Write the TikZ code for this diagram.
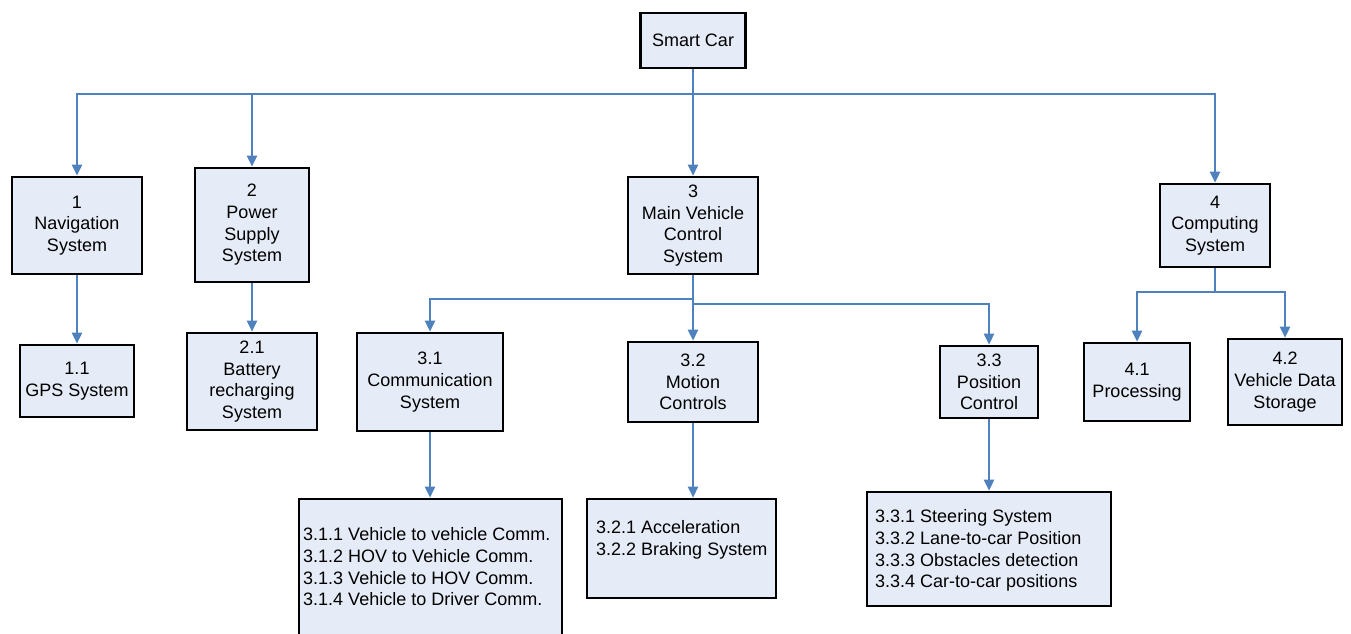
\documentclass[tikz,border=0pt]{standalone}
\usepackage{fontspec}
\setmainfont{Liberation Sans}
\usetikzlibrary{arrows.meta}
\definecolor{boxfill}{RGB}{230,236,247}
\definecolor{linkblue}{RGB}{79,129,189}

\begin{document}
\begin{tikzpicture}[x=1pt,y=-1pt,
  box/.style={draw=black, line width=2.6pt, fill=boxfill, align=center,
    font=\fontsize{18}{21.7}\selectfont, inner sep=0pt},
  listtext/.style={align=left, font=\fontsize{18}{21.7}\selectfont,
    inner sep=0pt, anchor=west},
  link/.style={draw=linkblue, line width=2.4pt,
    -{Triangle[length=11pt,width=10pt]}}
]
\useasboundingbox (0,0) rectangle (1351,633);

% root
\node[box, minimum width=105pt, minimum height=55pt] (car) at (693,40.5) {Smart Car};

% first level
\node[box, minimum width=130pt, minimum height=97pt]  (n1) at (77,225.5)   {1\\Navigation\\System};
\node[box, minimum width=114pt, minimum height=114pt] (n2) at (252,225)    {2\\Power\\Supply\\System};
\node[box, minimum width=130pt, minimum height=97pt]  (n3) at (693,225.5)  {3\\Main Vehicle\\Control\\System};
\node[box, minimum width=110pt, minimum height=83pt]  (n4) at (1215,225.5) {4\\Computing\\System};

% second level
\node[box, minimum width=114pt, minimum height=72pt] (n11) at (77,381)     {1.1\\GPS System};
\node[box, minimum width=130pt, minimum height=97pt] (n21) at (252,381.5)  {2.1\\Battery\\recharging\\System};
\node[box, minimum width=146pt, minimum height=98pt] (n31) at (430,382)    {3.1\\Communication\\System};
\node[box, minimum width=130pt, minimum height=80pt] (n32) at (693,382)    {3.2\\Motion\\Controls};
\node[box, minimum width=98pt,  minimum height=72pt] (n33) at (989,382)    {3.3\\Position\\Control};
\node[box, minimum width=106pt, minimum height=78pt] (n41) at (1137,382)   {4.1\\Processing};
\node[box, minimum width=114pt, minimum height=86pt] (n42) at (1285,382)   {4.2\\Vehicle Data\\Storage};

% third level: list boxes
\node[box, minimum width=263pt, minimum height=140pt] (l31) at (430.5,569) {};
\node[box, minimum width=189pt, minimum height=99pt]  (l32) at (681.5,548.5) {};
\node[box, minimum width=244pt, minimum height=114pt] (l33) at (989,549) {};

\node[listtext] (t31) at (303,567) {3.1.1 Vehicle to vehicle Comm.\\3.1.2 HOV to Vehicle Comm.\\3.1.3 Vehicle to HOV Comm.\\3.1.4 Vehicle to Driver Comm.};
\node[listtext] (t32) at (596,539.5) {3.2.1 Acceleration\\3.2.2 Braking System};
\node[listtext] (t33) at (875,550.5) {3.3.1 Steering System\\3.3.2 Lane-to-car Position\\3.3.3 Obstacles detection\\3.3.4 Car-to-car positions};

% bus levels
\coordinate (bus) at (693,94);
\coordinate (b3l) at (693,299);
\coordinate (b3r) at (693,304);
\coordinate (b4) at (1215,292);

% connectors from the root
\draw[link] (car.south) -- (car.south |- bus) -| (n1.north);
\draw[link] (car.south) -- (car.south |- bus) -| (n2.north);
\draw[link] (car.south) -- (n3.north);
\draw[link] (car.south) -- (car.south |- bus) -| (n4.north);

% first to second level
\draw[link] (n1.south) -- (n11.north);
\draw[link] (n2.south) -- (n2.south |- n21.north);
\draw[link] (n3.south) -- (b3l) -| (n31.north);
\draw[link] (n3.south) -- (n32.north);
\draw[link] (n3.south) -- (b3r) -| (n33.north);
\draw[link] (n4.south) -- (b4) -| (n41.north);
\draw[link] (n4.south) -- (b4) -| (n42.north);

% second to third level
\draw[link] (n31.south) -- (n31.south |- l31.north);
\draw[link] (n32.south) -- (n32.south |- l32.north);
\draw[link] (n33.south) -- (n33.south |- l33.north);
\end{tikzpicture}
\end{document}
